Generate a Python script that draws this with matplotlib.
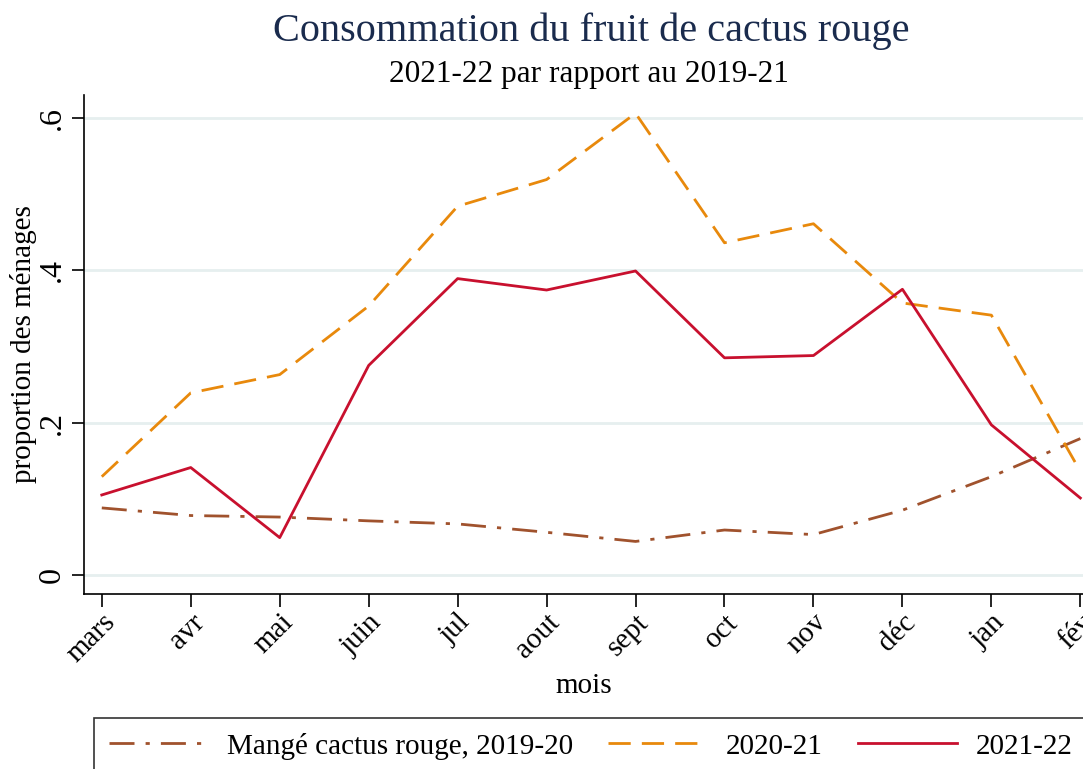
import matplotlib.pyplot as plt
import numpy as np

plt.rcParams['font.family'] = ['Liberation Serif', 'DejaVu Serif']

# month labels and series values (proportion des ménages)
mois = ['mars', 'avr', 'mai', 'juin', 'jul', 'aout', 'sept', 'oct', 'nov', 'déc', 'jan', 'fév']
y_2019_20 = [0.088, 0.078, 0.076, 0.071, 0.067, 0.056, 0.044, 0.059, 0.053, 0.085, 0.129, 0.179]
y_2020_21 = [0.129, 0.239, 0.263, 0.353, 0.484, 0.519, 0.606, 0.436, 0.461, 0.357, 0.341, 0.136]
y_2021_22 = [0.105, 0.141, 0.049, 0.275, 0.389, 0.374, 0.399, 0.285, 0.288, 0.375, 0.197, 0.101]

x = np.arange(len(mois))

fig = plt.figure(figsize=(10.83, 7.69), dpi=100)
ax = fig.add_axes([84 / 1083, 1 - 594 / 769, 1 - 84 / 1083, (594 - 95) / 769])

ax.plot(x, y_2019_20, color='#a0522d', lw=2, dashes=[9, 4, 1.5, 4],
        label='Mangé cactus rouge, 2019-20')
ax.plot(x, y_2020_21, color='#e8890c', lw=2, dashes=[8, 4], label='2020-21')
ax.plot(x, y_2021_22, color='#c8102e', lw=2, label='2021-22')

ax.set_xlim(-0.2, 11.03)
ax.set_ylim(-0.025, 0.63)
ax.set_yticks([0, 0.2, 0.4, 0.6])
ax.set_yticklabels(['0', '.2', '.4', '.6'], rotation=90, va='center', fontsize=23)
ax.set_xticks(x)
ax.set_xticklabels(mois, rotation=45, ha='right', rotation_mode='anchor', fontsize=21)
ax.tick_params(axis='both', length=9, width=1.2, color='black')
ax.tick_params(axis='x', pad=2)
ax.grid(axis='y', color='#e6efef', lw=2)
ax.set_axisbelow(True)
for side in ['top', 'right']:
    ax.spines[side].set_visible(False)
for side in ['left', 'bottom']:
    ax.spines[side].set_linewidth(1.2)

ax.set_xlabel('mois', fontsize=21, labelpad=4)
ax.set_ylabel('proportion des ménages', fontsize=21, labelpad=0.5)

fig.text(0.546, 0.960, 'Consommation du fruit de cactus rouge', ha='center', va='center',
         fontsize=29, color='#1a2b4d')
fig.text(0.544, 0.903, '2021-22 par rapport au 2019-21', ha='center', va='center', fontsize=22.5)

leg = fig.legend(loc='upper left', bbox_to_anchor=(94 / 1083, 1 - 718 / 769), ncol=3,
                 fontsize=21, frameon=True, fancybox=False, edgecolor='black',
                 handlelength=3.4, columnspacing=1.2, handletextpad=0.65,
                 borderaxespad=0, borderpad=0.5)
leg.get_frame().set_linewidth(1.2)

fig.savefig('out.png', dpi=100)
